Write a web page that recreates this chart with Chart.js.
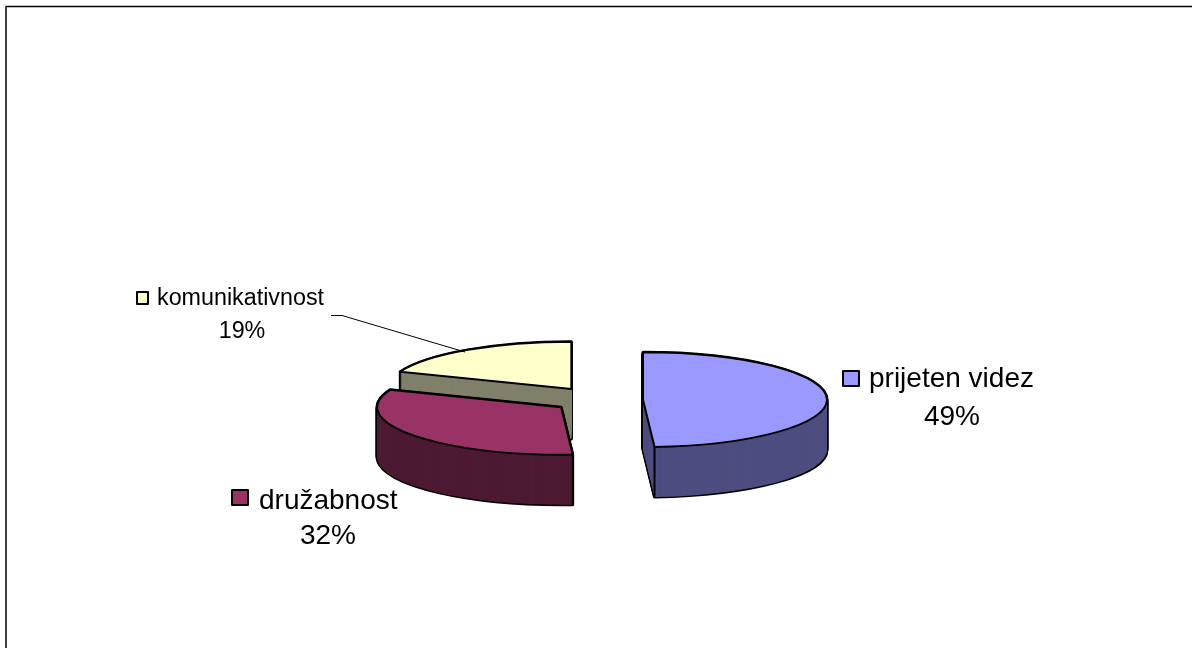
<!DOCTYPE html>
<html>
<head>
<meta charset="utf-8">
<title>Pie</title>
<script src="https://cdn.jsdelivr.net/npm/chart.js@4/dist/chart.umd.js"></script>
<style>
  html, body { margin: 0; padding: 0; background: #fff; overflow: hidden; }
  #wrap { position: relative; width: 1192px; height: 648px; }
</style>
</head>
<body>
<div id="wrap"><canvas id="pie" width="1192" height="648"></canvas></div>
<script>
const categories = ['prijeten videz', 'družabnost', 'komunikativnost'];
const shares = [49, 32, 19];
const percentLabels = ['49%', '32%', '19%'];

const FACE = ['#9999FF', '#993366', '#FFFFCC'];
const WALL = ['#4D4D80', '#4D1A33', '#80806B'];
const EXPLODE = [43, 48, 51];   // px pulled out along the slice middle
const TILT = 0.258;             // ellipse height / width
const DEPTH = 50;

// label placement: key box, first line, second line
const LABEL_BOX = [
  { key: [843, 371, 16, 15], x: 869, y: 387, size: 28, cx: 952, y2: 425 },
  { key: [232, 490, 16, 15], x: 259, y: 509, size: 28, cx: 328, y2: 544 },
  { key: [137, 292, 11, 12], x: 157, y: 305, size: 23.3, cx: 242, y2: 338 }
];

function slicePos(arc, i) {
  const mid = (arc.startAngle + arc.endAngle) / 2;
  return {
    x: arc.x + Math.cos(mid) * EXPLODE[i],
    y: arc.y + Math.sin(mid) * EXPLODE[i] * TILT
  };
}

function traceSlice(ctx, arc, pos, dy) {
  ctx.save();
  ctx.translate(pos.x, pos.y + dy);
  ctx.scale(1, TILT);
  ctx.beginPath();
  ctx.moveTo(0, 0);
  ctx.arc(0, 0, arc.outerRadius, arc.startAngle, arc.endAngle);
  ctx.closePath();
  ctx.restore();   // path stays, stroke width is not squashed
}

const pie3d = {
  id: 'pie3d',
  beforeDatasetsDraw(chart) {
    const ctx = chart.ctx;
    const arcs = chart.getDatasetMeta(0).data;
    ctx.lineJoin = 'round';

    // back slice first, the front one last
    [2, 1, 0].forEach((i) => {
      const arc = arcs[i];
      const pos = slicePos(arc, i);

      ctx.strokeStyle = '#000';
      ctx.lineWidth = 3;
      for (let d = DEPTH; d >= 0; d--) {
        traceSlice(ctx, arc, pos, d);
        ctx.stroke();
      }
      ctx.fillStyle = WALL[i];
      for (let d = DEPTH; d >= 0; d--) {
        traceSlice(ctx, arc, pos, d);
        ctx.fill();
      }

      // edge between inner wall and round wall, only on the front side
      [arc.startAngle, arc.endAngle].forEach((a) => {
        if (Math.sin(a) > 0) {
          const x = pos.x + Math.cos(a) * arc.outerRadius;
          const y = pos.y + Math.sin(a) * arc.outerRadius * TILT;
          ctx.lineWidth = 2;
          ctx.beginPath();
          ctx.moveTo(x, y);
          ctx.lineTo(x, y + DEPTH);
          ctx.stroke();
        }
      });

      // top face comes from the arc element itself
      ctx.save();
      ctx.translate(pos.x, pos.y);
      ctx.scale(1, TILT);
      ctx.translate(-arc.x, -arc.y);
      arc.draw(ctx);
      ctx.restore();

      traceSlice(ctx, arc, pos, 0);
      ctx.lineWidth = 2;
      ctx.stroke();
    });
    return false;
  },
  afterDraw(chart) {
    const ctx = chart.ctx;
    ctx.save();

    // frame of the chart object: only top and left are on the page
    ctx.strokeStyle = '#000';
    ctx.lineWidth = 1.5;
    ctx.beginPath();
    ctx.moveTo(6, 648);
    ctx.lineTo(6, 6.5);
    ctx.lineTo(1192, 6.5);
    ctx.stroke();

    // leader line of the small label
    ctx.lineWidth = 1;
    ctx.beginPath();
    ctx.moveTo(331, 315.5);
    ctx.lineTo(342, 315.5);
    ctx.lineTo(465, 352);
    ctx.stroke();

    LABEL_BOX.forEach((b, i) => {
      ctx.fillStyle = FACE[i];
      ctx.lineWidth = 2;
      ctx.fillRect(b.key[0], b.key[1], b.key[2], b.key[3]);
      ctx.strokeRect(b.key[0], b.key[1], b.key[2], b.key[3]);

      ctx.fillStyle = '#000';
      ctx.textBaseline = 'alphabetic';
      ctx.font = b.size + 'px "Liberation Sans", Arial, sans-serif';
      ctx.textAlign = 'left';
      ctx.fillText(categories[i], b.x, b.y);
      ctx.textAlign = 'center';
      ctx.fillText(percentLabels[i], b.cx, b.y2);
    });
    ctx.restore();
  }
};

new Chart(document.getElementById('pie'), {
  type: 'pie',
  data: {
    labels: categories,
    datasets: [{
      data: shares,
      backgroundColor: FACE,
      borderWidth: 0
    }]
  },
  options: {
    responsive: false,
    animation: false,
    events: [],
    radius: 184,
    layout: { padding: { left: 8, top: 152 } },
    plugins: { legend: { display: false }, tooltip: { enabled: false } }
  },
  plugins: [pie3d]
});
</script>
</body>
</html>
